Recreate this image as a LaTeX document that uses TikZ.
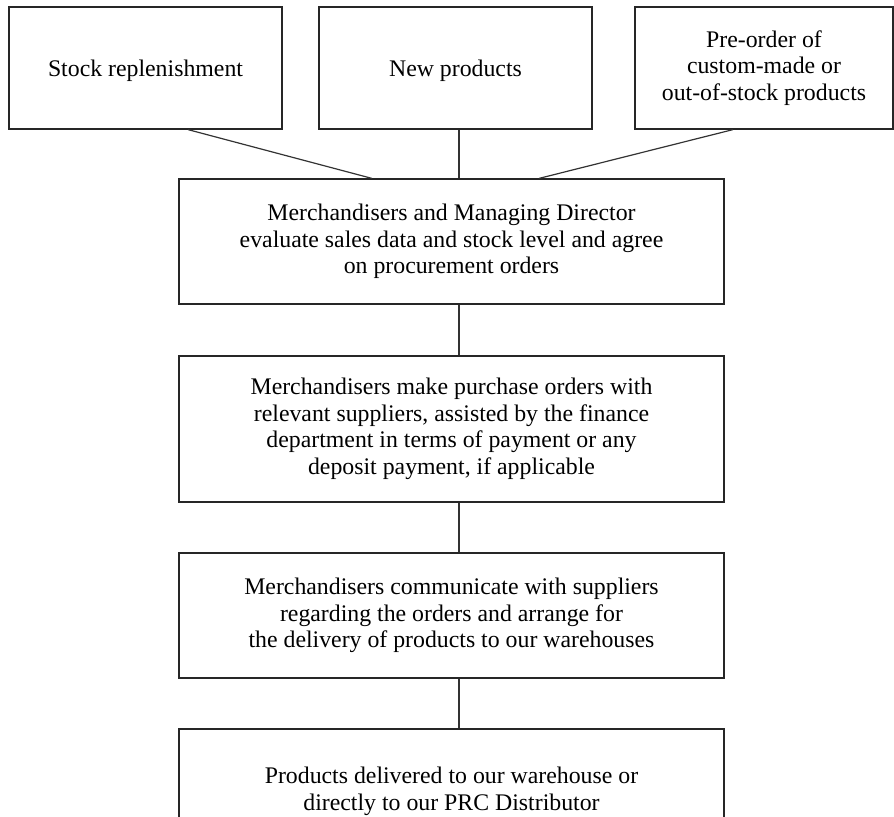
\documentclass[tikz,border=0pt]{standalone}
\usepackage{fontspec}
\setmainfont{Liberation Serif}
\usetikzlibrary{calc,positioning}

\begin{document}
\begin{tikzpicture}[x=0.5pt,y=-0.5pt,
  box/.style={draw=black!85, line width=0.6pt, inner sep=2pt, align=center,
    font=\fontsize{11.9}{13.25}\selectfont,
    execute at begin node={\rule{0pt}{11.5pt}}},
  link/.style={draw=black!80, line width=0.6pt}]

  \clip (0,0) rectangle (894,816);

  % sources of an order
  \node[box, minimum width=136.5pt, minimum height=61pt] (stock) at (145.5,68) {Stock replenishment};
  \node[box, minimum width=136.5pt, minimum height=61pt] (newp) at (455.5,68) {New products};
  \node[box, minimum width=129pt, minimum height=61pt] (preorder) at (764,68) {Pre-order of\\custom-made or\\out-of-stock products};

  % procurement steps
  \node[box, minimum width=272.5pt, minimum height=62.5pt] (eval) at (451.5,241.5)
    {Merchandisers and Managing Director\\evaluate sales data and stock level and agree\\on procurement orders};
  \node[box, minimum width=272.5pt, minimum height=73pt] (purchase) at (451.5,429)
    {Merchandisers make purchase orders with\\relevant suppliers, assisted by the finance\\department in terms of payment or any\\deposit payment, if applicable};
  \node[box, minimum width=272.5pt, minimum height=62.5pt] (arrange) at (451.5,615.5)
    {Merchandisers communicate with suppliers\\regarding the orders and arrange for\\the delivery of products to our warehouses};
  \node[box, minimum width=272.5pt, minimum height=62.5pt] (deliver) at (451.5,791.5)
    {Products delivered to our warehouse or\\directly to our PRC Distributor};

  \draw[link] ([xshift=21.25pt]stock.south) -- ([xshift=-39.75pt]eval.north);
  \draw[link] ([xshift=1.75pt]newp.south) -- ([xshift=3.75pt]eval.north);
  \draw[link] ([xshift=-15.5pt]preorder.south) -- ([xshift=43.75pt]eval.north);

  \draw[link] ([xshift=3.75pt]eval.south) -- ([xshift=3.75pt]purchase.north);
  \draw[link] ([xshift=3.75pt]purchase.south) -- ([xshift=3.75pt]arrange.north);
  \draw[link] ([xshift=3.75pt]arrange.south) -- ([xshift=3.75pt]deliver.north);

\end{tikzpicture}
\end{document}
